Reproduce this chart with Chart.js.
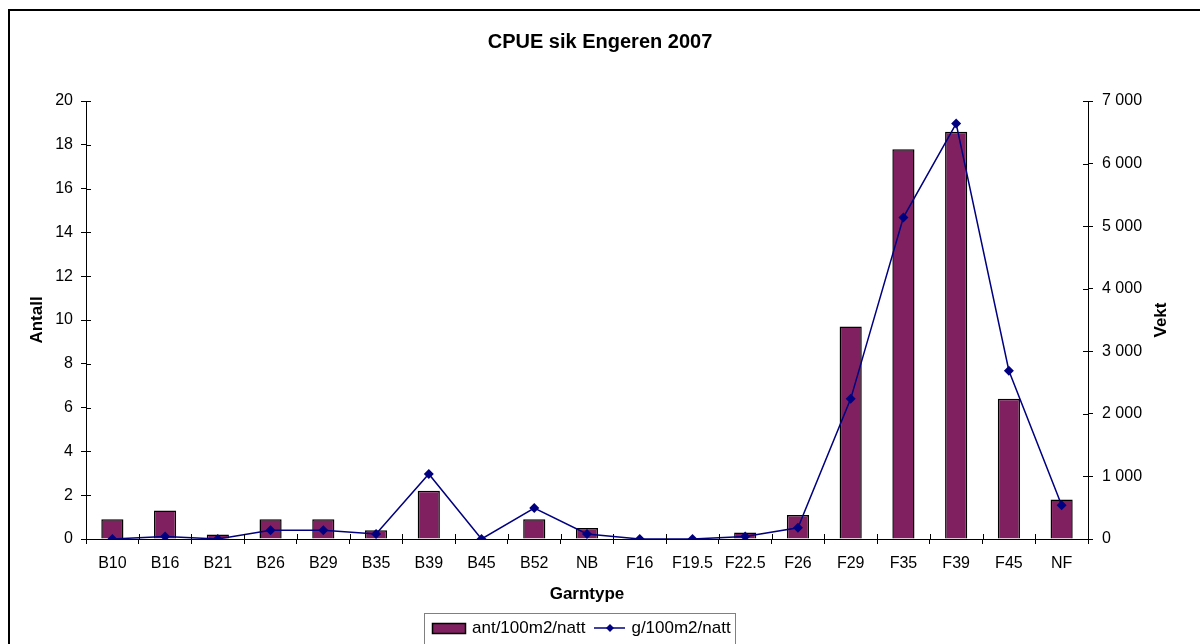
<!DOCTYPE html>
<html>
<head>
<meta charset="utf-8">
<script src="https://cdn.jsdelivr.net/npm/chart.js@4/dist/chart.umd.min.js"></script>
<style>
  body { margin: 0; background: #fff; }
  #wrap { position: relative; width: 1200px; height: 644px; overflow: hidden; }
  #frame { position: absolute; left: 8px; top: 9px; width: 1200px; height: 700px;
           border-top: 2px solid #000; border-left: 2px solid #000; }
  #legend { position: absolute; left: 424px; top: 613px; width: 312px; height: 40px;
            padding: 3px 0 0 6px; border: 1px solid #808080; box-sizing: border-box;
            font: 17px "Liberation Sans", Arial, sans-serif; display: flex; align-items: flex-start; }
  .item { display: flex; align-items: center; height: 22px; }
  .item span { margin-left: 5px; margin-right: 8px; white-space: nowrap; }
</style>
</head>
<body>
<div id="wrap">
  <div id="frame"></div>
  <canvas id="myChart" width="1200" height="644"></canvas>
  <div id="legend"></div>
</div>
<script>
'use strict';

let garntype = ['B10', 'B16', 'B21', 'B26', 'B29', 'B35', 'B39', 'B45', 'B52', 'NB',
  'F16', 'F19.5', 'F22.5', 'F26', 'F29', 'F35', 'F39', 'F45', 'NF'];
let antall = [0.9, 1.3, 0.2, 0.9, 0.9, 0.4, 2.2, 0, 0.9, 0.5,
  0, 0, 0.3, 1.1, 9.7, 17.8, 18.6, 6.4, 1.8];
let vekt = [0, 40, 0, 140, 140, 80, 1040, 0, 495, 80,
  0, 0, 40, 180, 2240, 5140, 6640, 2690, 540];
let antallTicks = [0, 20, 2];
let vektTicks = [0, 7000, 1000];

let fontName = '"Liberation Sans", Arial, sans-serif';
Chart.defaults.font.family = fontName;
Chart.defaults.color = '#000';

function spaced(v) {
  return String(v).replace(/\B(?=(\d{3})+(?!\d))/g, ' ');
}

// inner half of the tick marks (Excel ticks cross the axis)
let crossTicks = {
  id: 'crossTicks',
  afterDraw(chart) {
    let ctx = chart.ctx;
    let a = chart.chartArea;
    ctx.save();
    ctx.strokeStyle = '#000';
    ctx.lineWidth = 1;
    ctx.beginPath();
    chart.scales.y.ticks.forEach((t, i) => {
      let py = Math.round(chart.scales.y.getPixelForTick(i)) + 0.5;
      ctx.moveTo(a.left, py); ctx.lineTo(a.left + 5, py);
    });
    chart.scales.y1.ticks.forEach((t, i) => {
      let py = Math.round(chart.scales.y1.getPixelForTick(i)) + 0.5;
      ctx.moveTo(a.right - 5, py); ctx.lineTo(a.right, py);
    });
    for (let i = 0; i <= garntype.length; i++) {
      let px = Math.round(chart.scales.x.getPixelForValue(i - 0.5)) + 0.5;
      ctx.moveTo(px, a.bottom - 5); ctx.lineTo(px, a.bottom);
    }
    ctx.stroke();
    // right axis title reads bottom to top
    ctx.font = 'bold 17px ' + fontName;
    ctx.fillStyle = '#000';
    ctx.textAlign = 'center';
    ctx.textBaseline = 'middle';
    ctx.translate(1161, (a.top + a.bottom) / 2);
    ctx.rotate(-Math.PI / 2);
    ctx.fillText('Vekt', 0, 0);
    ctx.restore();
  }
};

let ctx = document.getElementById('myChart').getContext('2d');
let myChart = new Chart(ctx, {
  type: 'bar',
  data: {
    labels: garntype,
    datasets: [{
      type: 'bar',
      label: 'ant/100m2/natt',
      data: antall,
      yAxisID: 'y',
      backgroundColor: '#802060',
      borderColor: '#000',
      borderWidth: 1.5,
      barPercentage: 0.42,
      categoryPercentage: 1,
      order: 2
    }, {
      type: 'line',
      label: 'g/100m2/natt',
      data: vekt,
      yAxisID: 'y1',
      borderColor: '#000080',
      backgroundColor: '#000080',
      borderWidth: 1.5,
      pointStyle: 'rectRot',
      pointRadius: 5,
      pointBorderWidth: 0,
      tension: 0,
      order: 1
    }]
  },
  options: {
    responsive: false,
    animation: false,
    layout: { padding: 0 },
    plugins: {
      legend: { display: false },
      tooltip: { enabled: false },
      title: {
        display: true,
        text: 'CPUE sik Engeren 2007',
        font: { size: 20, weight: 'bold' },
        color: '#000',
        padding: { top: 30, bottom: 47 }
      }
    },
    scales: {
      x: {
        grid: { display: true, drawOnChartArea: false, drawTicks: true, tickLength: 5, color: '#000', offset: true },
        border: { display: true, color: '#000', width: 1 },
        ticks: { font: { size: 16 }, color: '#000', maxRotation: 0, autoSkip: false, padding: 10 },
        title: { display: true, text: 'Garntype', font: { size: 17, weight: 'bold' }, color: '#000', padding: { top: 39, bottom: 39 } },
        afterFit(scale) { scale.height = 105; }
      },
      y: {
        position: 'left',
        min: antallTicks[0],
        max: antallTicks[1],
        ticks: { stepSize: antallTicks[2], font: { size: 16 }, color: '#000', padding: 8 },
        grid: { drawOnChartArea: false, tickLength: 5, color: '#000' },
        border: { display: true, color: '#000', width: 1 },
        title: { display: true, text: 'Antall', font: { size: 17, weight: 'bold' }, color: '#000', padding: { top: 27, bottom: 27 } },
        afterFit(scale) { scale.width = 86; }
      },
      y1: {
        position: 'right',
        min: vektTicks[0],
        max: vektTicks[1],
        ticks: { stepSize: vektTicks[2], font: { size: 16 }, color: '#000', padding: 9, callback: v => spaced(v) },
        grid: { drawOnChartArea: false, tickLength: 5, color: '#000' },
        border: { display: true, color: '#000', width: 1 },
        afterFit(scale) { scale.width = 112; }
      }
    }
  },
  plugins: [crossTicks]
});

// legend in the Excel style: swatch for bars, line with diamond for the line
let legendEl = document.getElementById('legend');
myChart.data.datasets.forEach(ds => {
  let item = document.createElement('div');
  item.className = 'item';
  let sw = document.createElement('canvas');
  sw.width = ds.type === 'bar' ? 36 : 33;
  sw.height = 16;
  let c = sw.getContext('2d');
  if (ds.type === 'bar') {
    c.fillStyle = ds.backgroundColor;
    c.fillRect(1.5, 3.5, 33, 10);
    c.strokeStyle = '#000';
    c.lineWidth = 1.5;
    c.strokeRect(1.5, 3.5, 33, 10);
  } else {
    c.strokeStyle = ds.borderColor;
    c.lineWidth = 1.5;
    c.beginPath(); c.moveTo(1, 8); c.lineTo(32, 8); c.stroke();
    c.fillStyle = ds.backgroundColor;
    c.beginPath(); c.moveTo(17, 4); c.lineTo(21, 8); c.lineTo(17, 12); c.lineTo(13, 8); c.closePath(); c.fill();
  }
  item.appendChild(sw);
  let txt = document.createElement('span');
  txt.textContent = ds.label;
  item.appendChild(txt);
  legendEl.appendChild(item);
});
</script>
</body>
</html>
